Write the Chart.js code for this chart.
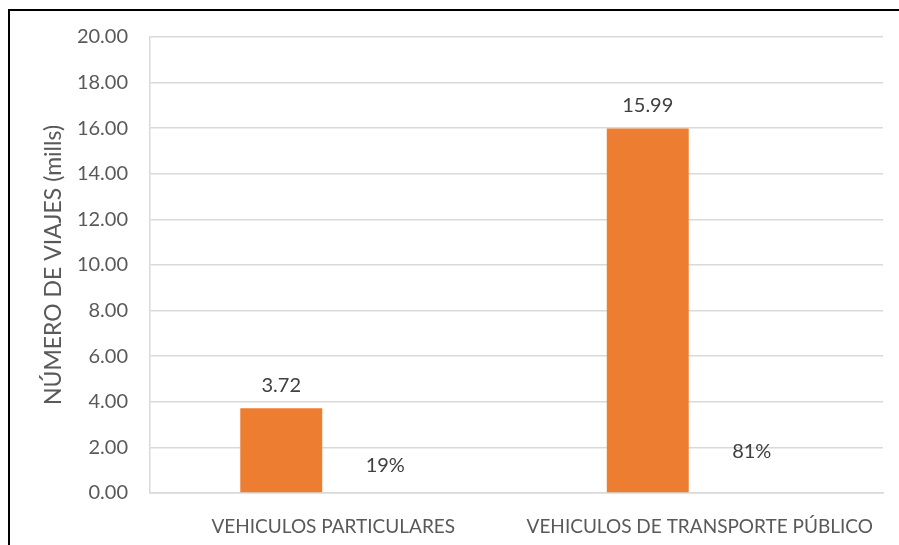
<!DOCTYPE html>
<html>
<head>
<meta charset="utf-8">
<script src="https://cdn.jsdelivr.net/npm/chart.js@4.4.1/dist/chart.umd.min.js"></script>
<style>
    html, body { margin: 0; padding: 0; background: #fff; }
    #wrap { position: relative; width: 899px; height: 545px; overflow: hidden; }
    #frame { position: absolute; left: 8px; top: 9px; width: 1000px; height: 1000px; border: 2px solid #000; box-sizing: border-box; }
    #wrap canvas { position: absolute; left: 0; top: 0; }
</style>
</head>
<body>
<div id="wrap">
    <div id="frame"></div>
    <canvas id="chart" width="899" height="545"></canvas>
</div>
<script>
// ===== Data =====
var categories = ['VEHICULOS PARTICULARES', 'VEHICULOS DE TRANSPORTE PÚBLICO'];
var trips = [3.72, 15.99];
var tripLabels = ['3.72', '15.99'];
var shares = [0.19, 0.81];
var shareLabels = ['19%', '81%'];

var FONT = 'Lato, "Open Sans", sans-serif';

// draws the value text above each bar, like Excel data labels
var barLabels = {
    id: 'barLabels',
    afterDatasetsDraw: function(chart) {
        var ctx = chart.ctx;
        ctx.save();
        ctx.font = '20px ' + FONT;
        ctx.fillStyle = '#404040';
        ctx.textAlign = 'center';
        ctx.textBaseline = 'middle';
        chart.data.datasets.forEach(function(ds, i) {
            var meta = chart.getDatasetMeta(i);
            meta.data.forEach(function(bar, j) {
                ctx.fillText(ds.labels[j], bar.x, bar.y - 23);
            });
        });
        ctx.restore();
    }
};

new Chart(document.getElementById('chart'), {
    type: 'bar',
    data: {
        labels: categories,
        datasets: [{
            label: 'Viajes',
            data: trips,
            labels: tripLabels,
            backgroundColor: '#ED7D31',
            categoryPercentage: 0.5675,
            barPercentage: 0.788
        }, {
            label: 'Porcentaje',
            data: shares,
            labels: shareLabels,
            backgroundColor: 'rgba(0,0,0,0)',
            categoryPercentage: 0.5675,
            barPercentage: 0.788
        }]
    },
    options: {
        responsive: false,
        animation: false,
        layout: { padding: { left: 0, right: 16, top: 37, bottom: 0 } },
        plugins: {
            legend: { display: false },
            tooltip: { enabled: false }
        },
        scales: {
            x: {
                grid: { display: false },
                border: { display: true, color: '#d9d9d9', width: 1.5 },
                ticks: { color: '#595959', font: { family: FONT, size: 19 }, padding: 14, maxRotation: 0 },
                afterFit: function(scale) { scale.height = 52; }
            },
            y: {
                min: 0,
                max: 20,
                ticks: {
                    stepSize: 2,
                    color: '#595959',
                    font: { family: FONT, size: 20 },
                    padding: 22,
                    callback: function(v) { return v.toFixed(2); }
                },
                grid: { color: '#d9d9d9', lineWidth: 1.5, drawTicks: false },
                border: { display: true, color: '#d9d9d9', width: 1.5 },
                title: {
                    display: true,
                    text: 'NÚMERO DE VIAJES (mills)',
                    color: '#595959',
                    font: { family: FONT, size: 23 },
                    padding: { top: 40, bottom: 0 }
                },
                afterFit: function(scale) { scale.width = 150; }
            }
        }
    },
    plugins: [barLabels]
});
</script>
</body>
</html>
